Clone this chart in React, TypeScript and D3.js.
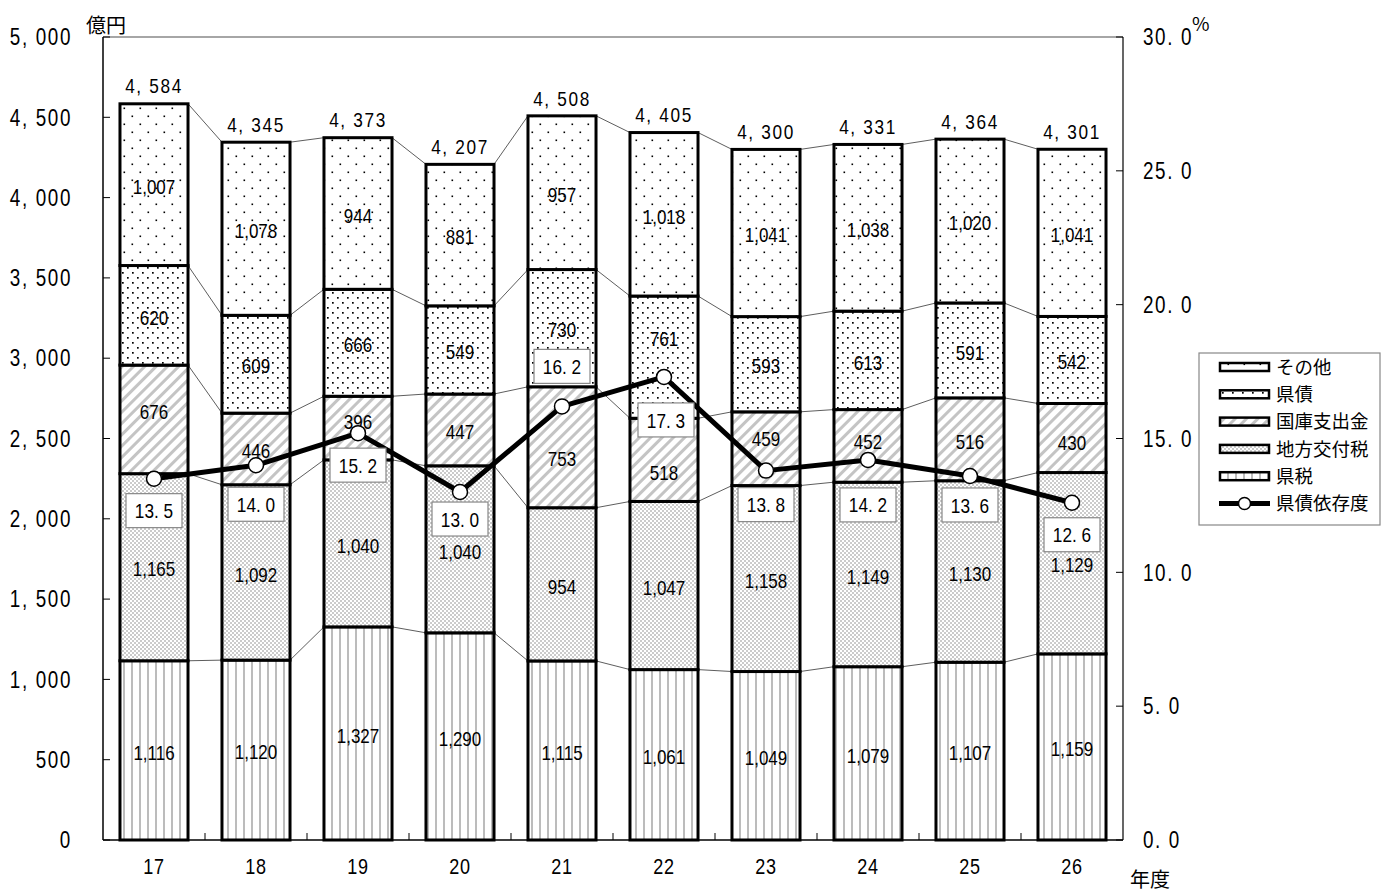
import React from 'react';
import * as d3 from 'd3';

// 年度
const years = ['17', '18', '19', '20', '21', '22', '23', '24', '25', '26'];
// 歳入内訳（億円）
const prefTax = [1116, 1120, 1327, 1290, 1115, 1061, 1049, 1079, 1107, 1159];
const localGrant = [1165, 1092, 1040, 1040, 954, 1047, 1158, 1149, 1130, 1129];
const treasury = [676, 446, 396, 447, 753, 518, 459, 452, 516, 430];
const prefBond = [620, 609, 666, 549, 730, 761, 593, 613, 591, 542];
const other = [1007, 1078, 944, 881, 957, 1018, 1041, 1038, 1020, 1041];
const totals = [4584, 4345, 4373, 4207, 4508, 4405, 4300, 4331, 4364, 4301];
// 県債依存度（%）
const bondRatio = [13.5, 14.0, 15.2, 13.0, 16.2, 17.3, 13.8, 14.2, 13.6, 12.6];

const leftTicks = [0, 500, 1000, 1500, 2000, 2500, 3000, 3500, 4000, 4500, 5000];
const rightTicks = [0, 5, 10, 15, 20, 25, 30];

// 依存度ラベルの表示位置（点からのずれ）
const ratioLabelDy = [32, 39, 32, 27, -40, 43, 34, 45, 29, 32];
const ratioLabelDx = [0, 0, 0, 0, 0, 2, 0, 0, 0, 0];
// 内訳ラベルの上下調整（線との重なりを避ける）
const treasuryLabelDy = [-10, 0, -8, 0, 10, 11, -12, -6, 0, 3];
const bondLabelDy = [0, 0, 0, 0, 0, -20, 0, 0, 0, 0];

const seriesKeys = ['tax', 'grant', 'treasury', 'bond', 'other'];
const seriesNames: Record<string, string> = {
  other: 'その他',
  bond: '県債',
  treasury: '国庫支出金',
  grant: '地方交付税',
  tax: '県税',
};
const seriesFill: Record<string, string> = {
  other: 'url(#pOther)',
  bond: 'url(#pBond)',
  treasury: 'url(#pTreasury)',
  grant: 'url(#pGrant)',
  tax: 'url(#pTax)',
};

const W = 1382;
const H = 893;
const plot = { left: 103, right: 1123, top: 37, bottom: 840 };

const NUM_FONT = '"Liberation Sans", Arial, sans-serif';
const JP_FONT = '"Noto Sans CJK JP", sans-serif';

const spaced = (s: string) => s.replace(/,/g, ', ').replace(/\./g, '. ');

// 縦長の数字表示（横方向を詰める）
function NText({
  x,
  y,
  size,
  anchor = 'middle',
  spacing = 0,
  sx = 0.82,
  children,
}: {
  x: number;
  y: number;
  size: number;
  anchor?: string;
  spacing?: number;
  sx?: number;
  children: React.ReactNode;
}) {
  return (
    <text
      transform={`translate(${x},${y}) scale(${sx},1)`}
      dy="0.36em"
      textAnchor={anchor as any}
      fontFamily={NUM_FONT}
      fontSize={size}
      letterSpacing={spacing}
      fill="#000"
    >
      {children}
    </text>
  );
}

export default function App() {
  const rows = years.map((y, i) => ({
    year: y,
    tax: prefTax[i],
    grant: localGrant[i],
    treasury: treasury[i],
    bond: prefBond[i],
    other: other[i],
  }));
  const stacked = d3.stack<any>().keys(seriesKeys)(rows);

  const x = d3.scaleBand<string>().domain(years).range([plot.left, plot.right]).paddingInner(0.333).paddingOuter(0.1665);
  const band = d3.scaleBand<string>().domain(years).range([plot.left, plot.right]);
  const y = d3.scaleLinear().domain([0, 5000]).range([plot.bottom, plot.top]);
  const yr = d3.scaleLinear().domain([0, 30]).range([plot.bottom, plot.top]);
  const bw = x.bandwidth();
  const cx = (yr_: string) => (band(yr_) as number) + band.bandwidth() / 2;

  const fmt = d3.format(',');
  const fmt1 = d3.format('.1f');

  const labelDy: Record<string, number[]> = {
    treasury: treasuryLabelDy,
    bond: bondLabelDy,
  };

  const line = d3
    .line<number>()
    .x((_, i) => cx(years[i]))
    .y((d) => yr(d));

  const legendKeys = ['other', 'bond', 'treasury', 'grant', 'tax'];
  const legendY = (i: number) => 367 + i * 27.3;

  return (
    <svg width={W} height={H} style={{ position: 'absolute', left: 0, top: 0, background: '#fff' }}>
      <defs>
        <pattern id="pOther" width={16} height={16} patternUnits="userSpaceOnUse">
          <rect width={16} height={16} fill="#fff" />
          <rect x={3.5} y={3.5} width={1.6} height={1.6} fill="#000" />
          <rect x={11.5} y={11.5} width={1.6} height={1.6} fill="#000" />
        </pattern>
        <pattern id="pBond" width={10} height={10} patternUnits="userSpaceOnUse">
          <rect width={10} height={10} fill="#fff" />
          <rect x={2} y={2} width={1.7} height={1.7} fill="#000" />
          <rect x={7} y={7} width={1.7} height={1.7} fill="#000" />
        </pattern>
        <pattern id="pTreasury" width={8} height={8} patternUnits="userSpaceOnUse" patternTransform="rotate(45)">
          <rect width={8} height={8} fill="#fff" />
          <rect x={0} y={0} width={3} height={8} fill="#c4c4c4" />
        </pattern>
        <pattern id="pGrant" width={4} height={4} patternUnits="userSpaceOnUse">
          <rect width={4} height={4} fill="#fff" />
          <rect x={0} y={0} width={2} height={2} fill="#cbcbcb" />
          <rect x={2} y={2} width={2} height={2} fill="#cbcbcb" />
        </pattern>
        <pattern id="pTax" width={8} height={8} patternUnits="userSpaceOnUse">
          <rect width={8} height={8} fill="#fff" />
          <rect x={3} y={0} width={2} height={8} fill="#bcbcbc" />
        </pattern>
      </defs>

      {/* 枠 */}
      <line x1={plot.left} x2={plot.right} y1={plot.top} y2={plot.top} stroke="#888" strokeWidth={1.5} />
      <line x1={plot.right} x2={plot.right} y1={plot.top} y2={plot.bottom} stroke="#000" strokeWidth={1.2} />
      <line x1={plot.left} x2={plot.left} y1={plot.top} y2={plot.bottom} stroke="#000" strokeWidth={1.5} />
      <line x1={plot.left} x2={plot.right} y1={plot.bottom} y2={plot.bottom} stroke="#000" strokeWidth={1.5} />

      {/* 左軸 */}
      {leftTicks.map((t) => (
        <g key={'l' + t}>
          <line x1={plot.left} x2={plot.left + 7} y1={y(t)} y2={y(t)} stroke="#000" strokeWidth={1} />
          <NText x={72} y={y(t)} size={23} anchor="end" spacing={2}>
            {spaced(fmt(t))}
          </NText>
        </g>
      ))}
      {/* 右軸 */}
      {rightTicks.map((t) => (
        <g key={'r' + t}>
          <line x1={plot.right - 7} x2={plot.right} y1={yr(t)} y2={yr(t)} stroke="#000" strokeWidth={1} />
          <NText x={1143} y={yr(t)} size={23} anchor="start" spacing={2}>
            {spaced(fmt1(t))}
          </NText>
        </g>
      ))}
      {/* x 軸目盛 */}
      {years.slice(1).map((yy) => (
        <line key={'xt' + yy} x1={band(yy)} x2={band(yy)} y1={plot.bottom - 7} y2={plot.bottom} stroke="#000" strokeWidth={1} />
      ))}
      {years.map((yy) => (
        <NText key={'xl' + yy} x={cx(yy)} y={866} size={22} spacing={1}>
          {yy}
        </NText>
      ))}

      <text x={126} y={33} textAnchor="end" fontFamily={JP_FONT} fontSize={20}>億円</text>
      <text x={1192} y={31} fontFamily={JP_FONT} fontSize={19}>%</text>
      <text x={1130} y={887} fontFamily={JP_FONT} fontSize={20}>年度</text>

      {/* 区分線 */}
      {stacked.map((s) =>
        years.slice(0, -1).map((yy, i) => (
          <line
            key={'sl' + s.key + yy}
            x1={(x(yy) as number) + bw}
            x2={x(years[i + 1]) as number}
            y1={y(s[i][1])}
            y2={y(s[i + 1][1])}
            stroke="#333"
            strokeWidth={0.8}
          />
        ))
      )}

      {/* 積み上げ棒 */}
      {stacked.map((s) => (
        <g key={'s' + s.key}>
          {s.map((d, i) => (
            <rect
              key={i}
              x={x(years[i])}
              y={y(d[1])}
              width={bw}
              height={y(d[0]) - y(d[1])}
              fill={seriesFill[s.key as string]}
              stroke="#000"
              strokeWidth={3}
            />
          ))}
        </g>
      ))}

      {/* 内訳ラベル */}
      {stacked.map((s) =>
        s.map((d, i) => {
          const adj = labelDy[s.key as string] ? labelDy[s.key as string][i] : 0;
          return (
            <NText
              key={'v' + s.key + i}
              x={cx(years[i])}
              y={(y(d[0]) + y(d[1])) / 2 + 2 + adj}
              size={20}
              sx={0.85}
            >
              {fmt(d[1] - d[0])}
            </NText>
          );
        })
      )}

      {/* 合計 */}
      {totals.map((t, i) => (
        <NText key={'t' + i} x={cx(years[i])} y={y(t) - 18} size={21} spacing={2}>
          {spaced(fmt(t))}
        </NText>
      ))}

      {/* 県債依存度 */}
      <path d={line(bondRatio) as string} fill="none" stroke="#000" strokeWidth={5} strokeLinejoin="round" />
      {bondRatio.map((v, i) => (
        <circle key={'c' + i} cx={cx(years[i])} cy={yr(v)} r={7.5} fill="#fff" stroke="#000" strokeWidth={1.5} />
      ))}
      {bondRatio.map((v, i) => {
        const bx = cx(years[i]) + ratioLabelDx[i];
        const by = yr(v) + ratioLabelDy[i];
        return (
          <g key={'rl' + i}>
            <rect x={bx - 28} y={by - 17} width={56} height={34} fill="#fff" stroke="#888" strokeWidth={1.2} />
            <NText x={bx} y={by} size={21}>
              {spaced(fmt1(v))}
            </NText>
          </g>
        );
      })}

      {/* 凡例 */}
      <g>
        <rect x={1199} y={353} width={181} height={172} fill="#fff" stroke="#888" strokeWidth={1.2} />
        {legendKeys.map((k, i) => (
          <g key={'lg' + k}>
            <rect x={1220} y={legendY(i) - 4} width={49} height={8} fill={seriesFill[k]} stroke="#000" strokeWidth={2.5} />
            <text x={1276} y={legendY(i)} dy="0.36em" fontFamily={JP_FONT} fontSize={18.5}>
              {seriesNames[k]}
            </text>
          </g>
        ))}
        <g>
          <line x1={1219} x2={1270} y1={legendY(5)} y2={legendY(5)} stroke="#000" strokeWidth={5} />
          <circle cx={1244.5} cy={legendY(5)} r={6} fill="#fff" stroke="#000" strokeWidth={1.5} />
          <text x={1276} y={legendY(5)} dy="0.36em" fontFamily={JP_FONT} fontSize={18.5}>
            県債依存度
          </text>
        </g>
      </g>
    </svg>
  );
}
